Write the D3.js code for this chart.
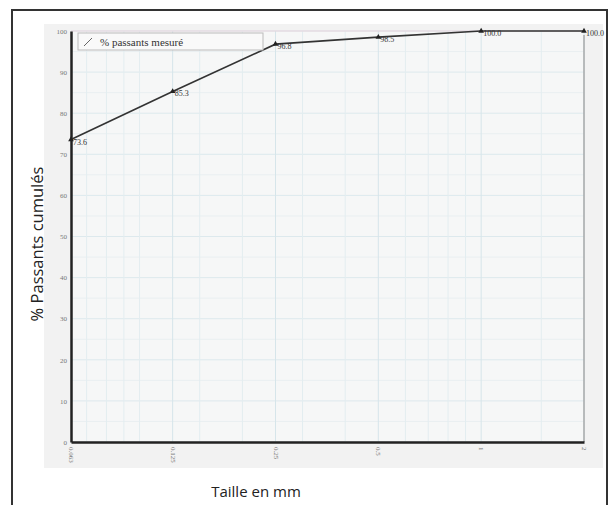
<!DOCTYPE html>
<html><head><meta charset="utf-8">
<script src="https://cdn.jsdelivr.net/npm/d3@7"></script>
<style>html,body{margin:0;padding:0;background:#fff;}svg{display:block;}</style>
</head><body>
<svg id="c" width="610" height="505"></svg>
<script>
const sizes = [0.063, 0.125, 0.25, 0.5, 1, 2];
const sizeLabels = ["0.063", "0.125", "0.25", "0.5", "1", "2"];
const passing = [73.6, 85.3, 96.8, 98.5, 100.0, 100.0];
const valueLabels = ["73.6", "85.3", "96.8", "98.5", "100.0", "100.0"];
const yTicks = [0, 10, 20, 30, 40, 50, 60, 70, 80, 90, 100];
const minorX = [0.07, 0.08, 0.09, 0.1, 0.15, 0.2, 0.3, 0.4, 0.6, 0.7, 0.8, 0.9, 1.5];
const seriesName = "% passants mesuré";
const xTitle = "Taille en mm";
const yTitle = "% Passants cumulés";

const svg = d3.select("#c");
// outer frame
svg.append("rect").attr("x", 12).attr("y", 10).attr("width", 595).attr("height", 505)
  .attr("fill", "#fff").attr("stroke", "#333").attr("stroke-width", 2);
// scanned image background
svg.append("rect").attr("x", 44).attr("y", 24).attr("width", 559).attr("height", 444)
  .attr("fill", "#f2f2f2");

const x = d3.scaleLog().domain([0.063, 2]).range([71, 584]);
const y = d3.scaleLinear().domain([0, 100]).range([442, 31]);

const g = svg.append("g");
g.append("rect").attr("x", x(0.063)).attr("y", y(100)).attr("width", x(2) - x(0.063))
  .attr("height", y(0) - y(100)).attr("fill", "#f6f7f7");

// grid
g.selectAll(".hg").data(d3.range(0, 101, 5)).join("line")
  .attr("x1", x(0.063)).attr("x2", x(2)).attr("y1", d => y(d)).attr("y2", d => y(d))
  .attr("stroke", d => d % 10 === 0 ? "#dde9ed" : "#e9eff1").attr("stroke-width", 1);
g.selectAll(".vg").data(minorX).join("line")
  .attr("x1", d => x(d)).attr("x2", d => x(d)).attr("y1", y(100)).attr("y2", y(0))
  .attr("stroke", "#e3edf0").attr("stroke-width", 1);
g.selectAll(".vm").data(sizes.slice(1)).join("line")
  .attr("x1", d => x(d)).attr("x2", d => x(d)).attr("y1", y(100)).attr("y2", y(0))
  .attr("stroke", "#d6e5ea").attr("stroke-width", 1);
// top faint pink line
g.append("line").attr("x1", x(0.063)).attr("x2", x(2)).attr("y1", y(100)).attr("y2", y(100))
  .attr("stroke", "#e6d3dc").attr("stroke-width", 1);
// right frame
g.append("line").attr("x1", x(2)).attr("x2", x(2)).attr("y1", y(99)).attr("y2", y(0))
  .attr("stroke", "#999").attr("stroke-width", 1.2);

// axes
const yAxis = d3.axisLeft(y).tickValues(yTicks).tickSize(0).tickPadding(4);
const ya = svg.append("g").attr("transform", `translate(${x(0.063)},0)`).call(yAxis);
ya.select(".domain").attr("stroke", "#222").attr("stroke-width", 2.5);
ya.selectAll("text").attr("font-family", "Liberation Serif").attr("font-size", 7).attr("fill", "#777");

const xAxis = d3.axisBottom(x).tickValues(sizes).tickFormat((d, i) => sizeLabels[i]).tickSize(0);
const xa = svg.append("g").attr("transform", `translate(0,${y(0)})`).call(xAxis);
xa.select(".domain").attr("stroke", "#222").attr("stroke-width", 2.5);
xa.selectAll("text").attr("font-family", "Liberation Serif").attr("font-size", 7).attr("fill", "#777")
  .attr("transform", "rotate(90)").attr("text-anchor", "start").attr("dy", "0.35em")
  .attr("x", 5).attr("y", 0);

// series
const pts = sizes.map((s, i) => [s, passing[i]]);
svg.append("path").datum(pts)
  .attr("d", d3.line().x(d => x(d[0])).y(d => y(d[1])))
  .attr("fill", "none").attr("stroke", "#333").attr("stroke-width", 1.6);
svg.selectAll(".mk").data(pts).join("path")
  .attr("d", d3.symbol().type(d3.symbolTriangle).size(14))
  .attr("transform", d => `translate(${x(d[0])},${y(d[1])})`).attr("fill", "#222");
svg.selectAll(".vl").data(pts).join("text")
  .attr("x", d => x(d[0]) + 2).attr("y", d => y(d[1]) + 5)
  .attr("font-family", "Liberation Serif").attr("font-size", 8).attr("fill", "#333")
  .text((d, i) => valueLabels[i]);

// legend
const lg = svg.append("g");
lg.append("rect").attr("x", 78).attr("y", 33).attr("width", 185).attr("height", 17)
  .attr("fill", "#f9f9f9").attr("stroke", "#bbb").attr("stroke-width", 1);
lg.append("line").attr("x1", 84).attr("x2", 92).attr("y1", 46).attr("y2", 38)
  .attr("stroke", "#666").attr("stroke-width", 1);
lg.append("text").attr("x", 100).attr("y", 45.5).attr("font-family", "Liberation Serif")
  .attr("font-size", 11).attr("fill", "#333").text(seriesName);

// titles
svg.append("text").attr("x", 256).attr("y", 497).attr("text-anchor", "middle")
  .attr("font-family", "Open Sans").attr("font-size", 15).attr("fill", "#222").text(xTitle);
svg.append("text").attr("transform", "translate(43,244) rotate(-90)").attr("text-anchor", "middle")
  .attr("font-family", "Open Sans").attr("font-size", 16.5).attr("fill", "#222").text(yTitle);
</script>
</body></html>
